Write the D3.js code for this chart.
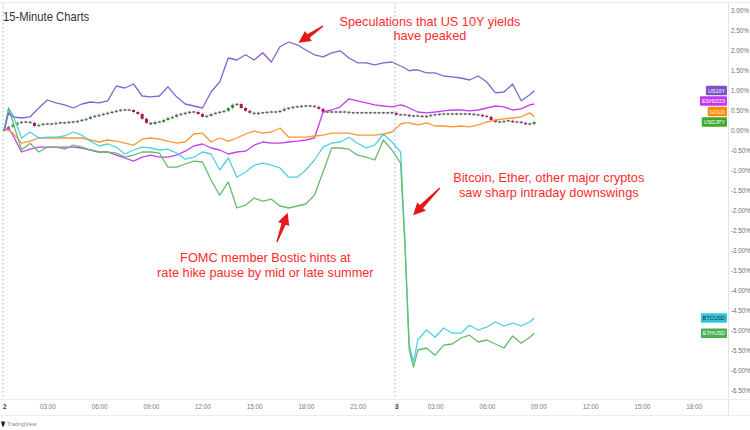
<!DOCTYPE html>
<html><head><meta charset="utf-8">
<script src="https://cdn.jsdelivr.net/npm/d3@7"></script>
<style>html,body{margin:0;padding:0;background:#fff;}svg{display:block;font-family:"Liberation Sans",Arial,sans-serif;}</style>
</head><body>
<svg id="c" width="750" height="430"></svg>
<script>
// ---- data (percent change, 15-minute bar index) ----
const bars = [0,1,2,4,6,8,10,12,14,16, 18,20,22,24,26,28,30,32,34,36, 38,40,42,44,46,48,50,52,54,56,
  58,60,62,64,66,68,70,72,74,76, 78,80,82,84,86,88,90,92,93,94, 95,96,98,100,102,104,106,108,110,112,
  114,116,118,120,122,123];
const us10y = [0,0.43,0.33,0.30,0.33,0.55,0.75,0.68,0.63,0.55, 0.65,0.70,0.68,0.73,1.10,1.05,1.15,0.85,0.83,0.85,
  1.08,0.83,0.65,0.60,0.55,0.95,1.20,1.80,1.75,1.88, 1.75,1.93,1.70,2.08,2.20,2.13,2.00,1.88,1.83,1.93,
  1.98,1.80,1.68,1.68,1.63,1.68,1.70,1.60,1.55,1.48, 1.50,1.50,1.43,1.43,1.35,1.33,1.30,1.25,1.35,1.20,
  0.93,0.95,1.15,0.73,0.88,0.98];
const esh2023 = [0,0.05,-0.13,-0.55,-0.48,-0.43,-0.43,-0.43,-0.43,-0.43, -0.45,-0.50,-0.55,-0.55,-0.63,-0.70,-0.78,-0.68,-0.63,-0.68,
  -0.68,-0.63,-0.53,-0.40,-0.35,-0.45,-0.50,-0.60,-0.55,-0.53, -0.38,-0.30,-0.33,-0.33,-0.30,-0.28,-0.25,-0.20,0.45,0.50,
  0.58,0.78,0.73,0.68,0.63,0.60,0.58,0.63,0.60,0.55, 0.50,0.45,0.43,0.45,0.48,0.50,0.50,0.48,0.50,0.55,
  0.60,0.58,0.50,0.53,0.63,0.65];
const gold = [0,0,-0.08,-0.33,-0.28,-0.20,-0.20,-0.20,-0.20,-0.20, -0.20,-0.25,-0.30,-0.25,-0.28,-0.33,-0.38,-0.23,-0.20,-0.23,
  -0.28,-0.33,-0.30,-0.10,-0.08,-0.30,-0.20,-0.28,-0.20,-0.10, -0.03,-0.08,-0.05,0.05,-0.18,-0.18,-0.18,-0.15,-0.13,-0.08,
  -0.08,-0.08,-0.13,-0.13,-0.13,-0.10,-0.05,0.15,0.18,0.18, 0.15,0.13,0.18,0.10,0.10,0.08,0.10,0.08,0.13,0.20,
  0.25,0.28,0.30,0.33,0.43,0.33];
const btcusd = [0,0.55,0.38,-0.20,-0.05,-0.20,-0.18,-0.18,-0.15,-0.05, -0.13,-0.28,-0.40,-0.35,-0.43,-0.60,-0.50,-0.43,-0.45,-0.50,
  -0.48,-0.58,-0.73,-0.68,-0.55,-0.60,-1.00,-0.70,-1.18,-1.05, -0.88,-0.83,-0.88,-0.95,-1.18,-1.18,-1.00,-0.75,-0.43,-0.33,
  -0.30,-0.18,-0.33,-0.45,-0.38,-0.10,-0.30,-0.55,-2.75,-5.38, -5.80,-5.25,-5.00,-5.18,-4.95,-5.08,-5.08,-4.88,-5.00,-4.93,
  -4.80,-4.90,-4.83,-4.90,-4.80,-4.70];
const ethusd = [0,0.55,0.20,-0.50,-0.33,-0.55,-0.43,-0.43,-0.48,-0.38, -0.43,-0.50,-0.55,-0.55,-0.58,-0.68,-0.63,-0.55,-0.55,-0.58,
  -0.93,-0.93,-0.85,-0.78,-0.80,-1.25,-1.63,-1.30,-1.95,-1.88, -1.70,-1.78,-1.73,-1.90,-1.95,-1.90,-1.85,-1.63,-1.05,-0.45,
  -0.45,-0.48,-0.63,-0.68,-0.75,-0.25,-0.50,-0.83,-2.88,-5.50, -5.93,-5.50,-5.45,-5.63,-5.38,-5.35,-5.20,-5.13,-5.30,-5.25,
  -5.35,-5.45,-5.15,-5.33,-5.18,-5.08];
// USDJPY candle closes, one per bar (index = bar number)
const usdjpyClose = [0.00,0.08,0.13,0.18,0.20,0.20,0.18,0.10,0.13,0.15, 0.15,0.15,0.18,0.18,0.18,0.20,0.20,0.23,0.25,0.28,
  0.33,0.35,0.38,0.40,0.43,0.45,0.48,0.50,0.50,0.50, 0.45,0.40,0.28,0.18,0.15,0.20,0.20,0.25,0.30,0.33,
  0.38,0.40,0.43,0.45,0.45,0.40,0.33,0.35,0.40,0.43, 0.45,0.48,0.55,0.63,0.65,0.55,0.48,0.43,0.40,0.43,
  0.43,0.45,0.45,0.45,0.48,0.53,0.55,0.58,0.58,0.60, 0.60,0.60,0.58,0.53,0.45,0.45,0.45,0.45,0.45,0.45,
  0.43,0.43,0.43,0.43,0.43,0.43,0.43,0.43,0.43,0.43, 0.43,0.38,0.38,0.38,0.35,0.35,0.35,0.33,0.35,0.38,
  0.38,0.40,0.40,0.40,0.40,0.40,0.40,0.40,0.40,0.38, 0.38,0.35,0.33,0.25,0.20,0.20,0.23,0.23,0.20,0.20,
  0.18,0.15,0.15,0.20];
const yTickVals = [3,2.5,2,1.5,1,0.5,0,-0.5,-1,-1.5,-2,-2.5,-3,-3.5,-4,-4.5,-5,-5.5,-6,-6.5];
const xTickBars = [0,10,22,34,46,58,70,82,91,100,112,124,136,148,160];
const xTickLabels = ["2","03:00","06:00","09:00","12:00","15:00","18:00","21:00","3","03:00","06:00","09:00","12:00","15:00","18:00"];
const dayBreaks = [-0.3, 90.7];
const tagNames = ["US10Y","ESH2023","GOLD","USDJPY","BTCUSD","ETHUSD"];

// ---- styles ----
const lineColors = {US10Y:"#8762d2", ESH2023:"#c23ff2", GOLD:"#ff9534", BTCUSD:"#4ed1e2", ETHUSD:"#66bd6a"};
const tagColors = {US10Y:"#7b52c9", ESH2023:"#c238f0", GOLD:"#ff8a00", USDJPY:"#3daa2a", BTCUSD:"#33c6db", ETHUSD:"#4caf50"};
const tagText = {US10Y:"#fff", ESH2023:"#fff", GOLD:"#fff", USDJPY:"#fff", BTCUSD:"#1d2a30", ETHUSD:"#fff"};
const SX = 0.9;      // horizontal squeeze of the reference screenshot (small texts)
const SXN = 0.98;    // squeeze for annotation texts

const svg = d3.select("#c");
const x = d3.scaleLinear().domain([0,168]).range([4.3,728]);
const y = d3.scaleLinear().domain([-6.5,3]).range([390,10]);

// frame
svg.append("line").attr("x1",0).attr("x2",750).attr("y1",2.5).attr("y2",2.5).attr("stroke","#ebebeb");
svg.append("line").attr("x1",728.5).attr("x2",728.5).attr("y1",2.5).attr("y2",415.5).attr("stroke","#e3e5ea");
svg.append("line").attr("x1",0).attr("x2",750).attr("y1",399.5).attr("y2",399.5).attr("stroke","#ececec");
svg.append("line").attr("x1",0).attr("x2",750).attr("y1",415.5).attr("y2",415.5).attr("stroke","#ececec");

// day breaks
svg.selectAll(".brk").data(dayBreaks).join("line").attr("class","brk")
  .attr("x1",d=>x(d)).attr("x2",d=>x(d)).attr("y1",3).attr("y2",399)
  .attr("stroke","#8fb1ef").attr("stroke-width",1).attr("stroke-dasharray","1.5,2.5");

// axes
const ya = svg.append("g").attr("transform","translate(731,0)")
  .call(d3.axisRight(y).tickValues(yTickVals).tickFormat(d=>d.toFixed(2)+"%").tickSize(0).tickPadding(0));
ya.select(".domain").remove();
ya.selectAll("text").attr("font-size",7).attr("fill","#6e6e6e").attr("font-family","Liberation Sans, Arial, sans-serif")
  .attr("transform",`scale(${SX},1)`);
const xa = svg.append("g").attr("transform","translate(0,401)")
  .call(d3.axisBottom(x).tickValues(xTickBars).tickFormat((d,i)=>xTickLabels[i]).tickSize(0).tickPadding(3));
xa.select(".domain").remove();
xa.selectAll("text").attr("font-size",7).attr("fill",(d,i)=>xTickLabels[i].length===1?"#333":"#7a7a7a")
  .attr("font-weight",(d,i)=>xTickLabels[i].length===1?"bold":"normal")
  .attr("font-family","Liberation Sans, Arial, sans-serif").attr("transform",`scale(${SX},1)`);

// candles (USDJPY)
const cg = svg.append("g");
const cand = usdjpyClose.map((c,i)=>({i, o: i===0?0:usdjpyClose[i-1], c}));
cand.forEach(d=>{
  const yo=y(d.o), yc=y(d.c), top=Math.min(yo,yc), bot=Math.max(yo,yc);
  const diff=d.c-d.o, doji=Math.abs(diff)<0.03;
  const col = doji?"#5e5e5e":(diff>0?"#2f8f3a":"#a8175c");
  cg.append("line").attr("x1",x(d.i)).attr("x2",x(d.i)).attr("y1",top-1.3).attr("y2",bot+1.3)
    .attr("stroke","#8a8a8a").attr("stroke-width",0.7);
  cg.append("rect").attr("x",x(d.i)-1.5).attr("width",3)
    .attr("y",doji?(yo+yc)/2-0.7:top).attr("height",doji?1.4:Math.max(1.5,bot-top)).attr("fill",col);
});

// lines
const series = [["ESH2023",esh2023],["GOLD",gold],["BTCUSD",btcusd],["ETHUSD",ethusd],["US10Y",us10y]];
const line = d3.line().x((d,i)=>x(bars[i])).y(d=>y(d));
series.forEach(([n,v])=>{
  svg.append("path").datum(v).attr("d",line).attr("fill","none").attr("stroke",lineColors[n])
    .attr("stroke-width",1.3).attr("stroke-linejoin","round");
});

// right-side tags
const lastVals = {US10Y:us10y.at(-1), ESH2023:esh2023.at(-1), GOLD:gold.at(-1), USDJPY:usdjpyClose.at(-1), BTCUSD:btcusd.at(-1), ETHUSD:ethusd.at(-1)};
const tags = tagNames.map(n=>({n, yy:y(lastVals[n])})).sort((a,b)=>b.yy-a.yy);
for(let k=1;k<tags.length;k++){ if(tags[k-1].yy-tags[k].yy<10.5) tags[k].yy=tags[k-1].yy-10.5; }
tags.forEach(t=>{
  const g=svg.append("g");
  const r=g.append("rect");
  const tx=g.append("text").text(t.n).attr("font-size",6).attr("fill",tagText[t.n]).attr("text-anchor","end")
    .attr("dominant-baseline","central").attr("transform",`translate(725,${t.yy}) scale(${SX},1)`);
  const w=tx.node().getComputedTextLength()*SX;
  r.attr("x",727-w-4).attr("y",t.yy-4.8).attr("width",w+4).attr("height",9.6).attr("rx",1).attr("fill",tagColors[t.n]);
});

// annotations (anchored in data coordinates)
const notes = [
  {lines:["Speculations that US 10Y yields","have peaked"], at:[98.8,2.61], head:[68.3,2.18], tail:[74,2.6]},
  {lines:["FOMC member Bostic hints at","rate hike pause by mid or late summer"], at:[60.6,-3.3], head:[65.8,-2.07], tail:[63.3,-2.8]},
  {lines:["Bitcoin, Ether, other major cryptos","saw sharp intraday downswings"], at:[126.4,-1.3], head:[94.9,-2.13], tail:[101.1,-1.45]}
];
const noteGap = 14.8;
function arrowPath(tx,ty,hx,hy){
  const dx=hx-tx, dy=hy-ty, L=Math.hypot(dx,dy), ux=dx/L, uy=dy/L, nx=-uy, ny=ux, hl=12;
  const bx=tx+ux*(L-hl), by=ty+uy*(L-hl);
  const p=[[tx+nx*0.6,ty+ny*0.6],[bx+nx*2.2,by+ny*2.2],[bx+nx*6,by+ny*6],[hx,hy],[bx-nx*6,by-ny*6],[bx-nx*2.2,by-ny*2.2],[tx-nx*0.6,ty-ny*0.6]];
  return "M"+p.map(q=>q[0].toFixed(1)+","+q[1].toFixed(1)).join("L")+"Z";
}
notes.forEach(nt=>{
  nt.lines.forEach((s,k)=>{
    svg.append("text").text(s).attr("font-size",13).attr("fill","#ff2b2b").attr("text-anchor","middle")
      .attr("transform",`translate(${x(nt.at[0])},${y(nt.at[1])+k*noteGap}) scale(${SXN},1)`);
  });
  svg.append("path").attr("d",arrowPath(x(nt.tail[0]),y(nt.tail[1]),x(nt.head[0]),y(nt.head[1]))).attr("fill","#e5161c");
});

// title & footer
svg.append("text").text("15-Minute Charts").attr("font-size",12.5).attr("fill","#333")
  .attr("transform",`translate(3,20.5) scale(${SX},1)`);
svg.append("path").attr("d","M1,421.5h4.2l-1.4,5h-1.4z").attr("fill","#222");
svg.append("text").text("TradingView").attr("font-size",6).attr("fill","#888")
  .attr("transform",`translate(7,426.3) scale(${SX},1)`);
</script>
</body></html>
